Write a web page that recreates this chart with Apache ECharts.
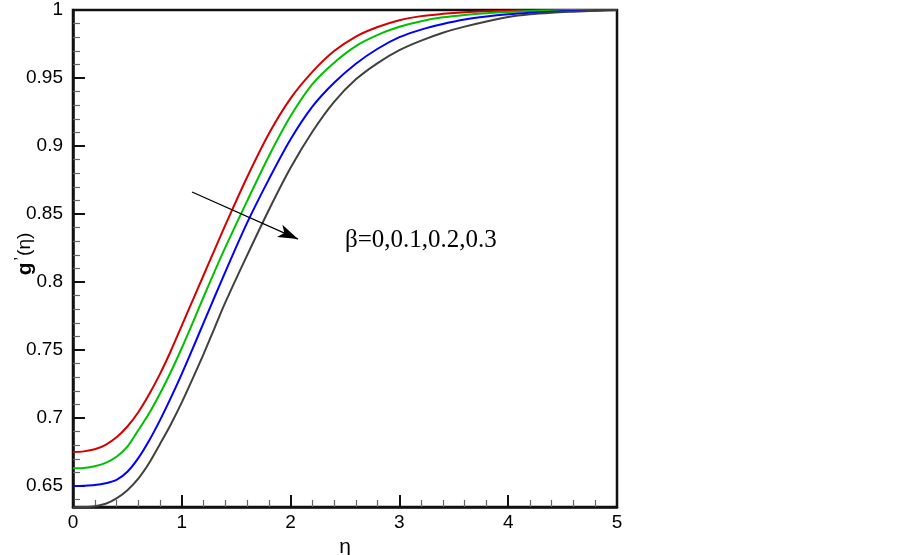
<!DOCTYPE html>
<html>
<head>
<meta charset="utf-8">
<script src="https://cdn.jsdelivr.net/npm/echarts@6/dist/echarts.min.js"></script>
<style>
  html, body { margin: 0; padding: 0; background: #fff; }
  #chart { width: 903px; height: 555px; }
</style>
</head>
<body>
<div id="chart"></div>
<script>
// eta sample positions
const eta = [0, 0.1, 0.2, 0.3, 0.4, 0.5, 0.6, 0.7, 0.8, 0.9, 1.0, 1.1, 1.2, 1.3, 1.4, 1.6, 1.8, 2.0, 2.2, 2.4, 2.6, 2.8, 3.0, 3.2, 3.4, 3.6, 3.8, 4.0, 4.2, 4.4, 4.6, 4.8, 5.0];

// g'(eta) for beta = 0, 0.1, 0.2, 0.3
const gBeta0  = [0.675, 0.6755, 0.677, 0.6803, 0.6858, 0.6938, 0.7043, 0.7175, 0.7325, 0.7495, 0.768, 0.7865, 0.805, 0.8235, 0.8418, 0.877, 0.909, 0.935, 0.9545, 0.9698, 0.9805, 0.9875, 0.9925, 0.9955, 0.9972, 0.9984, 0.9991, 0.9995, 0.9997, 0.9999, 1, 1, 1];
const gBeta01 = [0.663, 0.6633, 0.6645, 0.667, 0.6715, 0.679, 0.691, 0.7035, 0.718, 0.734, 0.7515, 0.770, 0.789, 0.8075, 0.8255, 0.8595, 0.8925, 0.922, 0.9455, 0.9613, 0.9735, 0.9817, 0.9877, 0.9918, 0.9946, 0.9964, 0.9977, 0.9986, 0.9992, 0.9996, 0.9998, 0.9999, 1];
const gBeta02 = [0.650, 0.6502, 0.6507, 0.652, 0.6545, 0.6605, 0.6705, 0.6835, 0.6985, 0.715, 0.7325, 0.751, 0.770, 0.7888, 0.8075, 0.8435, 0.8755, 0.905, 0.929, 0.9465, 0.9605, 0.9715, 0.980, 0.9856, 0.9897, 0.993, 0.9952, 0.9968, 0.9979, 0.9987, 0.9993, 0.9997, 1];
const gBeta03 = [0.6345, 0.6346, 0.6352, 0.637, 0.641, 0.647, 0.6555, 0.667, 0.681, 0.6955, 0.7115, 0.729, 0.747, 0.766, 0.785, 0.8196, 0.853, 0.884, 0.9105, 0.9325, 0.949, 0.961, 0.9705, 0.9775, 0.9833, 0.9878, 0.9916, 0.9948, 0.9968, 0.998, 0.9988, 0.9995, 1];

const seriesNames = ['β=0', 'β=0.1', 'β=0.2', 'β=0.3'];
const seriesColors = ['#d40000', '#00c000', '#0000ff', '#404040'];

// axis ticks
const yMajorTicks = [0.65, 0.7, 0.75, 0.8, 0.85, 0.9, 0.95, 1];
const yMinorTicks = [0.64, 0.66, 0.67, 0.68, 0.69, 0.71, 0.72, 0.73, 0.74, 0.76, 0.77, 0.78, 0.79, 0.81, 0.82, 0.83, 0.84, 0.86, 0.87, 0.88, 0.89, 0.91, 0.92, 0.93, 0.94, 0.96, 0.97, 0.98, 0.99];
const yMin = 0.6346, yMax = 1;

// annotation arrow (data coordinates) and label
const arrowFrom = [1.094, 0.8662];
const arrowTo = [2.068, 0.8316];
const annotationText = 'β=0,0.1,0.2,0.3';

const curves = [gBeta0, gBeta01, gBeta02, gBeta03];

const series = curves.map((vals, i) => ({
  name: seriesNames[i],
  type: 'line',
  xAxisIndex: 0,
  yAxisIndex: 0,
  data: eta.map((x, k) => [x, vals[k]]),
  smooth: 0.3,
  showSymbol: false,
  symbol: 'none',
  clip: true,
  lineStyle: { color: seriesColors[i], width: 2 },
  itemStyle: { color: seriesColors[i] },
  z: 3
}));

series[0].markLine = {
  silent: true,
  symbol: ['none', 'arrow'],
  symbolSize: [10, 20],
  label: { show: false },
  lineStyle: { color: '#000', width: 1.3, type: 'solid' },
  itemStyle: { color: '#000' },
  data: [[{ coord: arrowFrom }, { coord: arrowTo }]],
  animation: false
};

const chart = echarts.init(document.getElementById('chart'), null, { renderer: 'canvas' });
chart.setOption({
  animation: false,
  backgroundColor: '#fff',
  grid: {
    left: 73, right: 286, top: 10, bottom: 48,
    containLabel: false, outerBoundsMode: 'none',
    show: true, borderColor: '#111', borderWidth: 2.5, backgroundColor: 'transparent'
  },
  xAxis: [{
    type: 'value', min: 0, max: 5, interval: 1,
    name: 'η', nameLocation: 'middle', nameGap: 22,
    nameTextStyle: { fontFamily: 'Liberation Sans', fontSize: 21, color: '#000' },
    axisLine: { show: true, lineStyle: { color: '#111', width: 2.5 } },
    axisTick: { show: true, inside: true, length: 12, lineStyle: { color: '#111', width: 2 } },
    minorTick: { show: true, splitNumber: 5, length: 7, lineStyle: { color: '#666', width: 1.2 } },
    axisLabel: { fontFamily: 'Liberation Sans', fontSize: 19, color: '#000', margin: 6 },
    splitLine: { show: false },
    minorSplitLine: { show: false }
  }],
  yAxis: [{
    type: 'value', min: yMin, max: yMax, position: 'left',
    axisLine: { show: true, lineStyle: { color: '#111', width: 2.5 } },
    axisTick: { show: true, inside: true, length: 12, customValues: yMajorTicks, lineStyle: { color: '#111', width: 2 } },
    axisLabel: { fontFamily: 'Liberation Sans', fontSize: 19, color: '#000', margin: 10, customValues: yMajorTicks,
      formatter: v => String(Math.round(v * 100) / 100) },
    splitLine: { show: false }
  }, {
    type: 'value', min: yMin, max: yMax, position: 'left', offset: 0,
    axisLine: { show: false },
    axisTick: { show: true, inside: true, length: 7, customValues: yMinorTicks, lineStyle: { color: '#666', width: 1.2 } },
    axisLabel: { show: false, customValues: yMinorTicks },
    splitLine: { show: false }
  }],
  graphic: [{
    type: 'text',
    x: 25, y: 254,
    rotation: Math.PI / 2,
    style: {
      text: '{g|g}{p|\u2019}{q|(η)}',
      align: 'center', verticalAlign: 'middle',
      rich: {
        g: { fontFamily: 'Liberation Sans', fontSize: 21, fontWeight: 'bold', fill: '#000' },
        p: { fontFamily: 'Liberation Sans', fontSize: 16, fill: '#000', padding: [0, 1, 6, 2] },
        q: { fontFamily: 'Liberation Sans', fontSize: 19, fill: '#000' }
      }
    }
  }, {
    type: 'text',
    left: 345, top: 228,
    style: { text: annotationText, font: '25px "Liberation Serif"', fill: '#000' }
  }],
  series: series
});
</script>
</body>
</html>
